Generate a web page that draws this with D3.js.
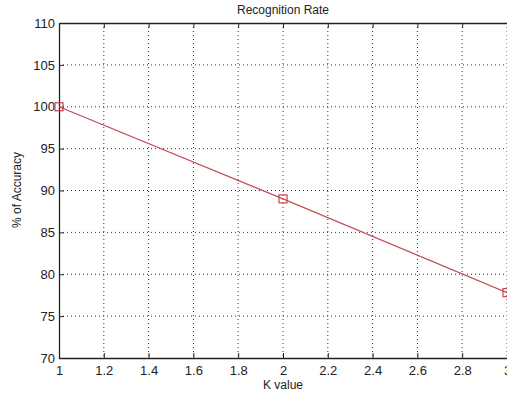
<!DOCTYPE html>
<html>
<head>
<meta charset="utf-8">
<script src="https://cdn.jsdelivr.net/npm/d3@7"></script>
<style>
  body { margin: 0; background: #fff; }
  svg { display: block; }
  text { font-family: "Liberation Sans", Arial, sans-serif; fill: #222; }
</style>
</head>
<body>
<div id="wrapper"></div>
<script>
// data
const kValues = [1, 2, 3]
const accuracy = [100, 89, 77.8]
const xTicks = [1, 1.2, 1.4, 1.6, 1.8, 2, 2.2, 2.4, 2.6, 2.8, 3]
const yTicks = [70, 75, 80, 85, 90, 95, 100, 105, 110]

const dataSet = kValues.map((k, i) => ({ k: k, acc: accuracy[i] }))

let dimensions = {
    width: 507,
    height: 394,
    margin: { top: 23, right: 0, bottom: 36, left: 59 }
}
dimensions.boundedWidth = 448
dimensions.boundedHeight = dimensions.height - dimensions.margin.top - dimensions.margin.bottom

const wrapper = d3.select("#wrapper")
    .append("svg")
    .attr("width", dimensions.width)
    .attr("height", dimensions.height)

const bounds = wrapper.append("g")
    .attr("transform", `translate(${dimensions.margin.left},${dimensions.margin.top})`)

const xScale = d3.scaleLinear()
    .domain([1, 3])
    .range([0, dimensions.boundedWidth])

const yScale = d3.scaleLinear()
    .domain([70, 110])
    .range([dimensions.boundedHeight, 0])

// grid
bounds.append("g")
    .selectAll("line")
    .data(xTicks.slice(1))
    .join("line")
    .attr("x1", d => xScale(d)).attr("x2", d => xScale(d))
    .attr("y1", 0).attr("y2", dimensions.boundedHeight)
    .attr("stroke", "#333")
    .attr("stroke-width", 1)
    .attr("stroke-dasharray", "1,3")

bounds.append("g")
    .selectAll("line")
    .data(yTicks.slice(1, -1))
    .join("line")
    .attr("x1", 0).attr("x2", dimensions.boundedWidth)
    .attr("y1", d => yScale(d)).attr("y2", d => yScale(d))
    .attr("stroke", "#333")
    .attr("stroke-width", 1)
    .attr("stroke-dasharray", "1,3")

// axes
const xAxis = bounds.append("g")
    .attr("transform", `translate(0,${dimensions.boundedHeight})`)
    .call(d3.axisBottom(xScale).tickValues(xTicks).tickSizeInner(-5).tickSizeOuter(0).tickPadding(8).tickFormat(d3.format("")))
const xTop = bounds.append("g")
    .call(d3.axisTop(xScale).tickValues(xTicks).tickSizeInner(-5).tickSizeOuter(0).tickFormat(""))
const yAxis = bounds.append("g")
    .call(d3.axisLeft(yScale).tickValues(yTicks).tickSizeInner(-5).tickSizeOuter(0).tickPadding(4))

bounds.selectAll(".domain").attr("stroke", "#222").attr("stroke-width", 1.3)
bounds.selectAll(".tick line").attr("stroke", "#222")
bounds.selectAll(".tick text").style("font-size", "13px").style("font-family", "Liberation Sans, Arial, sans-serif").attr("fill", "#333")

// line
const lineGenerator = d3.line()
    .x(d => xScale(d.k))
    .y(d => yScale(d.acc))

bounds.append("path")
    .attr("d", lineGenerator(dataSet))
    .attr("fill", "none")
    .attr("stroke", "#c0505a")
    .attr("stroke-width", 1.3)

bounds.selectAll(".marker")
    .data(dataSet)
    .join("rect")
    .attr("class", "marker")
    .attr("x", d => xScale(d.k) - 4)
    .attr("y", d => yScale(d.acc) - 4)
    .attr("width", 8)
    .attr("height", 8)
    .attr("fill", "none")
    .attr("stroke", "#c84050")
    .attr("stroke-width", 1.2)

// titles
wrapper.append("text")
    .attr("x", 283)
    .attr("y", 14)
    .attr("text-anchor", "middle")
    .style("font-size", "12px")
    .text("Recognition Rate")

wrapper.append("text")
    .attr("x", 283)
    .attr("y", 389)
    .attr("text-anchor", "middle")
    .style("font-size", "12px")
    .text("K value")

wrapper.append("text")
    .attr("transform", "translate(21,190) rotate(-90)")
    .attr("text-anchor", "middle")
    .style("font-size", "12px")
    .text("% of Accuracy")
</script>
</body>
</html>
